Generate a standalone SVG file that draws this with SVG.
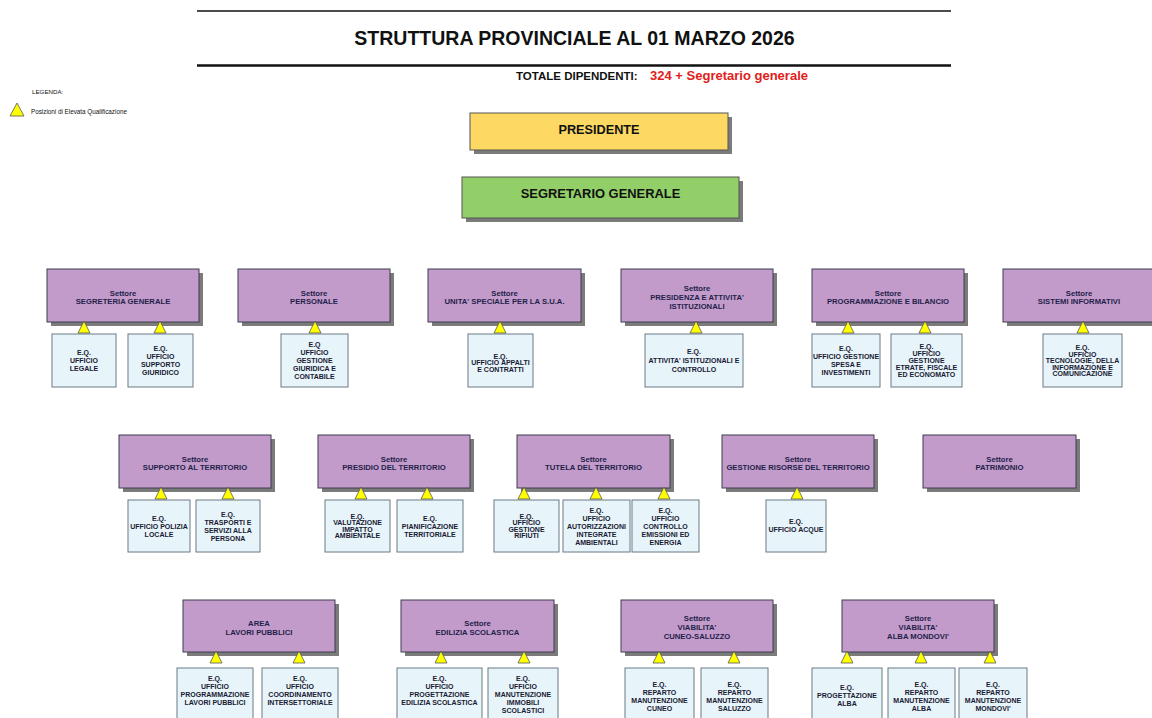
<svg xmlns="http://www.w3.org/2000/svg" width="1152" height="718" viewBox="0 0 1152 718">
<style>
.sec{fill:#C39BCB;stroke:#3d3d4d;stroke-width:1}
.sh{fill:#7b7b7b}
.eq{fill:#E7F4FA;stroke:#6b7a85;stroke-width:1}
.tri{fill:#FFFF00;stroke:#555;stroke-width:0.8;stroke-linejoin:round}
.st{font-family:"Liberation Sans",Arial,sans-serif;font-size:7.7px;font-weight:bold;fill:#1f1f4a;text-anchor:middle}
.et{font-family:"Liberation Sans",Arial,sans-serif;font-size:7px;font-weight:bold;fill:#1a1a33;text-anchor:middle}
.big{font-family:"Liberation Sans",Arial,sans-serif;font-weight:bold;fill:#111;text-anchor:middle}
.leg{font-family:"Liberation Sans",Arial,sans-serif;fill:#111}
</style>
<rect width="1152" height="718" fill="#fff"/>
<g id="header">
<line x1="197" y1="11" x2="951" y2="11" stroke="#111" stroke-width="1.5"/>
<line x1="197" y1="65.5" x2="951" y2="65.5" stroke="#111" stroke-width="2.5"/>
<text class="big" x="574.5" y="45" font-size="19.5px">STRUTTURA PROVINCIALE AL 01 MARZO 2026</text>
<text class="leg" x="516" y="80" font-size="11.5px" font-weight="bold">TOTALE DIPENDENTI:</text>
<text class="leg" x="650" y="80" font-size="12.5px" font-weight="bold" fill="#e02020" style="fill:#e02020" textLength="158" lengthAdjust="spacingAndGlyphs">324 + Segretario generale</text>
</g>
<g id="legend">
<text class="leg" x="32" y="94" font-size="6.2px">LEGENDA:</text>
<polygon class="tri" points="17,103 10,116 24,116"/>
<text class="leg" x="31" y="114" font-size="6.3px">Posizioni di Elevata Qualificazione</text>
</g>
<g id="presidente">
<rect class="sh" x="474" y="117" width="258" height="37"/>
<rect x="470" y="113" width="258" height="37" fill="#FDD862" stroke="#555" stroke-width="1"/>
<text class="big" x="599" y="134" font-size="12.7px">PRESIDENTE</text>
</g>
<g id="segretario">
<rect class="sh" x="466" y="181" width="277" height="41"/>
<rect x="462" y="177" width="277" height="41" fill="#92CF68" stroke="#555" stroke-width="1"/>
<text class="big" x="600.5" y="198" font-size="12.9px">SEGRETARIO GENERALE</text>
</g>

<!-- ROW 1 sectors -->
<g id="s-segreteria"><rect class="sh" x="51" y="273" width="152" height="53"/><rect class="sec" x="47" y="269" width="152" height="53"/><text class="st" x="123" y="295.5">Settore</text><text class="st" x="123" y="304">SEGRETERIA GENERALE</text></g>
<g id="s-personale"><rect class="sh" x="242" y="273" width="152" height="53"/><rect class="sec" x="238" y="269" width="152" height="53"/><text class="st" x="314" y="295.5">Settore</text><text class="st" x="314" y="304">PERSONALE</text></g>
<g id="s-sua"><rect class="sh" x="432" y="273" width="153" height="53"/><rect class="sec" x="428" y="269" width="153" height="53"/><text class="st" x="504.5" y="295.5">Settore</text><text class="st" x="504.5" y="304">UNITA' SPECIALE PER LA S.U.A.</text></g>
<g id="s-presidenza"><rect class="sh" x="625" y="273" width="152" height="53"/><rect class="sec" x="621" y="269" width="152" height="53"/><text class="st" x="697" y="290.8">Settore</text><text class="st" x="697" y="299.8">PRESIDENZA E ATTIVITA'</text><text class="st" x="697" y="308.8">ISTITUZIONALI</text></g>
<g id="s-programmazione"><rect class="sh" x="816" y="273" width="152" height="53"/><rect class="sec" x="812" y="269" width="152" height="53"/><text class="st" x="888" y="295.5">Settore</text><text class="st" x="888" y="304">PROGRAMMAZIONE E BILANCIO</text></g>
<g id="s-sistemi"><rect class="sh" x="1007" y="273" width="152" height="53"/><rect class="sec" x="1003" y="269" width="152" height="53"/><text class="st" x="1079" y="295.5">Settore</text><text class="st" x="1079" y="304">SISTEMI INFORMATIVI</text></g>

<!-- ROW 1 EQ -->
<g id="eq-legale"><rect class="eq" x="52" y="334" width="64" height="53"/><text class="et" x="84" y="355">E.Q.</text><text class="et" x="84" y="363">UFFICIO</text><text class="et" x="84" y="371">LEGALE</text></g>
<g id="eq-supporto-giuridico"><rect class="eq" x="128" y="334" width="65" height="53"/><text class="et" x="160.5" y="351">E.Q.</text><text class="et" x="160.5" y="359">UFFICIO</text><text class="et" x="160.5" y="367">SUPPORTO</text><text class="et" x="160.5" y="375">GIURIDICO</text></g>
<g id="eq-giuridica-contabile"><rect class="eq" x="281" y="334" width="67" height="53"/><text class="et" x="314.5" y="347">E.Q</text><text class="et" x="314.5" y="355">UFFICIO</text><text class="et" x="314.5" y="363">GESTIONE</text><text class="et" x="314.5" y="371">GIURIDICA E</text><text class="et" x="314.5" y="379">CONTABILE</text></g>
<g id="eq-appalti"><rect class="eq" x="468" y="334" width="65" height="53"/><text class="et" x="500.5" y="358.5">E.Q.</text><text class="et" x="500.5" y="365">UFFICIO APPALTI</text><text class="et" x="500.5" y="371.5">E CONTRATTI</text></g>
<g id="eq-attivita"><rect class="eq" x="645" y="334" width="98" height="53"/><text class="et" x="694" y="353.5">E.Q.</text><text class="et" x="694" y="362.5">ATTIVITA' ISTITUZIONALI E</text><text class="et" x="694" y="371.5">CONTROLLO</text></g>
<g id="eq-spesa"><rect class="eq" x="812" y="334" width="68" height="53"/><text class="et" x="846" y="351">E.Q.</text><text class="et" x="846" y="359">UFFICIO GESTIONE</text><text class="et" x="846" y="367">SPESA E</text><text class="et" x="846" y="375">INVESTIMENTI</text></g>
<g id="eq-entrate"><rect class="eq" x="891" y="334" width="71" height="53"/><text class="et" x="926.5" y="349">E.Q.</text><text class="et" x="926.5" y="356">UFFICIO</text><text class="et" x="926.5" y="363">GESTIONE</text><text class="et" x="926.5" y="370">ETRATE, FISCALE</text><text class="et" x="926.5" y="377">ED ECONOMATO</text></g>
<g id="eq-tecnologie"><rect class="eq" x="1043" y="334" width="79" height="53"/><text class="et" x="1082.5" y="350">E.Q.</text><text class="et" x="1082.5" y="356.5">UFFICIO</text><text class="et" x="1082.5" y="363">TECNOLOGIE, DELLA</text><text class="et" x="1082.5" y="369.5">INFORMAZIONE E</text><text class="et" x="1082.5" y="376">COMUNICAZIONE</text></g>

<!-- ROW 2 sectors -->
<g id="s-supporto-territorio"><rect class="sh" x="123" y="439" width="152" height="53"/><rect class="sec" x="119" y="435" width="152" height="53"/><text class="st" x="195" y="461.5">Settore</text><text class="st" x="195" y="470">SUPPORTO AL TERRITORIO</text></g>
<g id="s-presidio"><rect class="sh" x="322" y="439" width="152" height="53"/><rect class="sec" x="318" y="435" width="152" height="53"/><text class="st" x="394" y="461.5">Settore</text><text class="st" x="394" y="470">PRESIDIO DEL TERRITORIO</text></g>
<g id="s-tutela"><rect class="sh" x="521" y="439" width="153" height="53"/><rect class="sec" x="517" y="435" width="153" height="53"/><text class="st" x="593.5" y="461.5">Settore</text><text class="st" x="593.5" y="470">TUTELA DEL TERRITORIO</text></g>
<g id="s-gestione-risorse"><rect class="sh" x="726" y="439" width="152" height="53"/><rect class="sec" x="722" y="435" width="152" height="53"/><text class="st" x="798" y="461.5">Settore</text><text class="st" x="798" y="470">GESTIONE RISORSE DEL TERRITORIO</text></g>
<g id="s-patrimonio"><rect class="sh" x="927" y="439" width="153" height="53"/><rect class="sec" x="923" y="435" width="153" height="53"/><text class="st" x="999.5" y="461.5">Settore</text><text class="st" x="999.5" y="470">PATRIMONIO</text></g>

<!-- ROW 2 EQ -->
<g id="eq-polizia"><rect class="eq" x="128" y="500" width="62" height="52"/><text class="et" x="159" y="520.5">E.Q.</text><text class="et" x="159" y="528.5">UFFICIO POLIZIA</text><text class="et" x="159" y="536.5">LOCALE</text></g>
<g id="eq-trasporti"><rect class="eq" x="196" y="500" width="64" height="52"/><text class="et" x="228" y="516.5">E.Q.</text><text class="et" x="228" y="524.5">TRASPORTI E</text><text class="et" x="228" y="532.5">SERVIZI ALLA</text><text class="et" x="228" y="540.5">PERSONA</text></g>
<g id="eq-valutazione"><rect class="eq" x="325" y="500" width="65" height="52"/><text class="et" x="357.5" y="518.8">E.Q.</text><text class="et" x="357.5" y="525.3">VALUTAZIONE</text><text class="et" x="357.5" y="531.8">IMPATTO</text><text class="et" x="357.5" y="538.3">AMBIENTALE</text></g>
<g id="eq-pianificazione"><rect class="eq" x="397" y="500" width="66" height="52"/><text class="et" x="430" y="520.5">E.Q.</text><text class="et" x="430" y="528.5">PIANIFICAZIONE</text><text class="et" x="430" y="536.5">TERRITORIALE</text></g>
<g id="eq-rifiuti"><rect class="eq" x="494" y="500" width="65" height="52"/><text class="et" x="526.5" y="518.8">E.Q.</text><text class="et" x="526.5" y="525.3">UFFICIO</text><text class="et" x="526.5" y="531.8">GESTIONE</text><text class="et" x="526.5" y="538.3">RIFIUTI</text></g>
<g id="eq-autorizzazioni"><rect class="eq" x="563" y="500" width="67" height="52"/><text class="et" x="596.5" y="512.5">E.Q.</text><text class="et" x="596.5" y="520.5">UFFICIO</text><text class="et" x="596.5" y="528.5">AUTORIZZAZIONI</text><text class="et" x="596.5" y="536.5">INTEGRATE</text><text class="et" x="596.5" y="544.5">AMBIENTALI</text></g>
<g id="eq-emissioni"><rect class="eq" x="632" y="500" width="67" height="52"/><text class="et" x="665.5" y="512.5">E.Q.</text><text class="et" x="665.5" y="520.5">UFFICIO</text><text class="et" x="665.5" y="528.5">CONTROLLO</text><text class="et" x="665.5" y="536.5">EMISSIONI ED</text><text class="et" x="665.5" y="544.5">ENERGIA</text></g>
<g id="eq-acque"><rect class="eq" x="766" y="500" width="60" height="52"/><text class="et" x="796" y="524">E.Q.</text><text class="et" x="796" y="531.5">UFFICIO ACQUE</text></g>

<!-- ROW 3 sectors -->
<g id="a-lavori-pubblici"><rect class="sh" x="187" y="604" width="152" height="52"/><rect class="sec" x="183" y="600" width="152" height="52"/><text class="st" x="259" y="626.2">AREA</text><text class="st" x="259" y="634.7">LAVORI PUBBLICI</text></g>
<g id="s-edilizia"><rect class="sh" x="405" y="604" width="153" height="52"/><rect class="sec" x="401" y="600" width="153" height="52"/><text class="st" x="477.5" y="626.2">Settore</text><text class="st" x="477.5" y="634.7">EDILIZIA SCOLASTICA</text></g>
<g id="s-viabilita-cuneo"><rect class="sh" x="625" y="604" width="152" height="52"/><rect class="sec" x="621" y="600" width="152" height="52"/><text class="st" x="697" y="621.2">Settore</text><text class="st" x="697" y="630.2">VIABILITA'</text><text class="st" x="697" y="639.2">CUNEO-SALUZZO</text></g>
<g id="s-viabilita-alba"><rect class="sh" x="846" y="604" width="152" height="52"/><rect class="sec" x="842" y="600" width="152" height="52"/><text class="st" x="918" y="621.2">Settore</text><text class="st" x="918" y="630.2">VIABILITA'</text><text class="st" x="918" y="639.2">ALBA MONDOVI'</text></g>

<!-- ROW 3 EQ -->
<g id="eq-programmazione-lp"><rect class="eq" x="177" y="668" width="76" height="54"/><text class="et" x="215" y="680.5">E.Q.</text><text class="et" x="215" y="688.5">UFFICIO</text><text class="et" x="215" y="696.5">PROGRAMMAZIONE</text><text class="et" x="215" y="704.5">LAVORI PUBBLICI</text></g>
<g id="eq-coordinamento"><rect class="eq" x="262" y="668" width="76" height="54"/><text class="et" x="300" y="680.5">E.Q.</text><text class="et" x="300" y="688.5">UFFICIO</text><text class="et" x="300" y="696.5">COORDINAMENTO</text><text class="et" x="300" y="704.5">INTERSETTORIALE</text></g>
<g id="eq-progettazione-edilizia"><rect class="eq" x="397" y="668" width="85" height="54"/><text class="et" x="439.5" y="680.5">E.Q.</text><text class="et" x="439.5" y="688.5">UFFICIO</text><text class="et" x="439.5" y="696.5">PROGETTAZIONE</text><text class="et" x="439.5" y="704.5">EDILIZIA SCOLASTICA</text></g>
<g id="eq-manutenzione-immobili"><rect class="eq" x="488" y="668" width="70" height="54"/><text class="et" x="523" y="680.5">E.Q.</text><text class="et" x="523" y="688.5">UFFICIO</text><text class="et" x="523" y="696.5">MANUTENZIONE</text><text class="et" x="523" y="704.5">IMMOBILI</text><text class="et" x="523" y="712.5">SCOLASTICI</text></g>
<g id="eq-cuneo"><rect class="eq" x="625" y="668" width="69" height="54"/><text class="et" x="659.5" y="686.5">E.Q.</text><text class="et" x="659.5" y="694.5">REPARTO</text><text class="et" x="659.5" y="702.5">MANUTENZIONE</text><text class="et" x="659.5" y="710.5">CUNEO</text></g>
<g id="eq-saluzzo"><rect class="eq" x="701" y="668" width="67" height="54"/><text class="et" x="734.5" y="686.5">E.Q.</text><text class="et" x="734.5" y="694.5">REPARTO</text><text class="et" x="734.5" y="702.5">MANUTENZIONE</text><text class="et" x="734.5" y="710.5">SALUZZO</text></g>
<g id="eq-progettazione-alba"><rect class="eq" x="812" y="668" width="70" height="54"/><text class="et" x="847" y="689.5">E.Q.</text><text class="et" x="847" y="697.5">PROGETTAZIONE</text><text class="et" x="847" y="705.5">ALBA</text></g>
<g id="eq-alba"><rect class="eq" x="888" y="668" width="67" height="54"/><text class="et" x="921.5" y="686.5">E.Q.</text><text class="et" x="921.5" y="694.5">REPARTO</text><text class="et" x="921.5" y="702.5">MANUTENZIONE</text><text class="et" x="921.5" y="710.5">ALBA</text></g>
<g id="eq-mondovi"><rect class="eq" x="959" y="668" width="68" height="54"/><text class="et" x="993" y="686.5">E.Q.</text><text class="et" x="993" y="694.5">REPARTO</text><text class="et" x="993" y="702.5">MANUTENZIONE</text><text class="et" x="993" y="710.5">MONDOVI'</text></g>

<!-- connectors: EQ markers -->
<g id="connectors">
<polygon class="tri" points="84,321 78,333 90,333"/>
<polygon class="tri" points="160,321 154,333 166,333"/>
<polygon class="tri" points="315,321 309,333 321,333"/>
<polygon class="tri" points="500,321 494,333 506,333"/>
<polygon class="tri" points="696,321 690,333 702,333"/>
<polygon class="tri" points="848,321 842,333 854,333"/>
<polygon class="tri" points="925,321 919,333 931,333"/>
<polygon class="tri" points="1083,321 1077,333 1089,333"/>
<polygon class="tri" points="161,487 155,499 167,499"/>
<polygon class="tri" points="228,487 222,499 234,499"/>
<polygon class="tri" points="361,487 355,499 367,499"/>
<polygon class="tri" points="427,487 421,499 433,499"/>
<polygon class="tri" points="524,487 518,499 530,499"/>
<polygon class="tri" points="596,487 590,499 602,499"/>
<polygon class="tri" points="664,487 658,499 670,499"/>
<polygon class="tri" points="797,487 791,499 803,499"/>
<polygon class="tri" points="216,651 210,663 222,663"/>
<polygon class="tri" points="299,651 293,663 305,663"/>
<polygon class="tri" points="441,651 435,663 447,663"/>
<polygon class="tri" points="524,651 518,663 530,663"/>
<polygon class="tri" points="659,651 653,663 665,663"/>
<polygon class="tri" points="734,651 728,663 740,663"/>
<polygon class="tri" points="847,651 841,663 853,663"/>
<polygon class="tri" points="921,651 915,663 927,663"/>
<polygon class="tri" points="990,651 984,663 996,663"/>
</g>
</svg>
